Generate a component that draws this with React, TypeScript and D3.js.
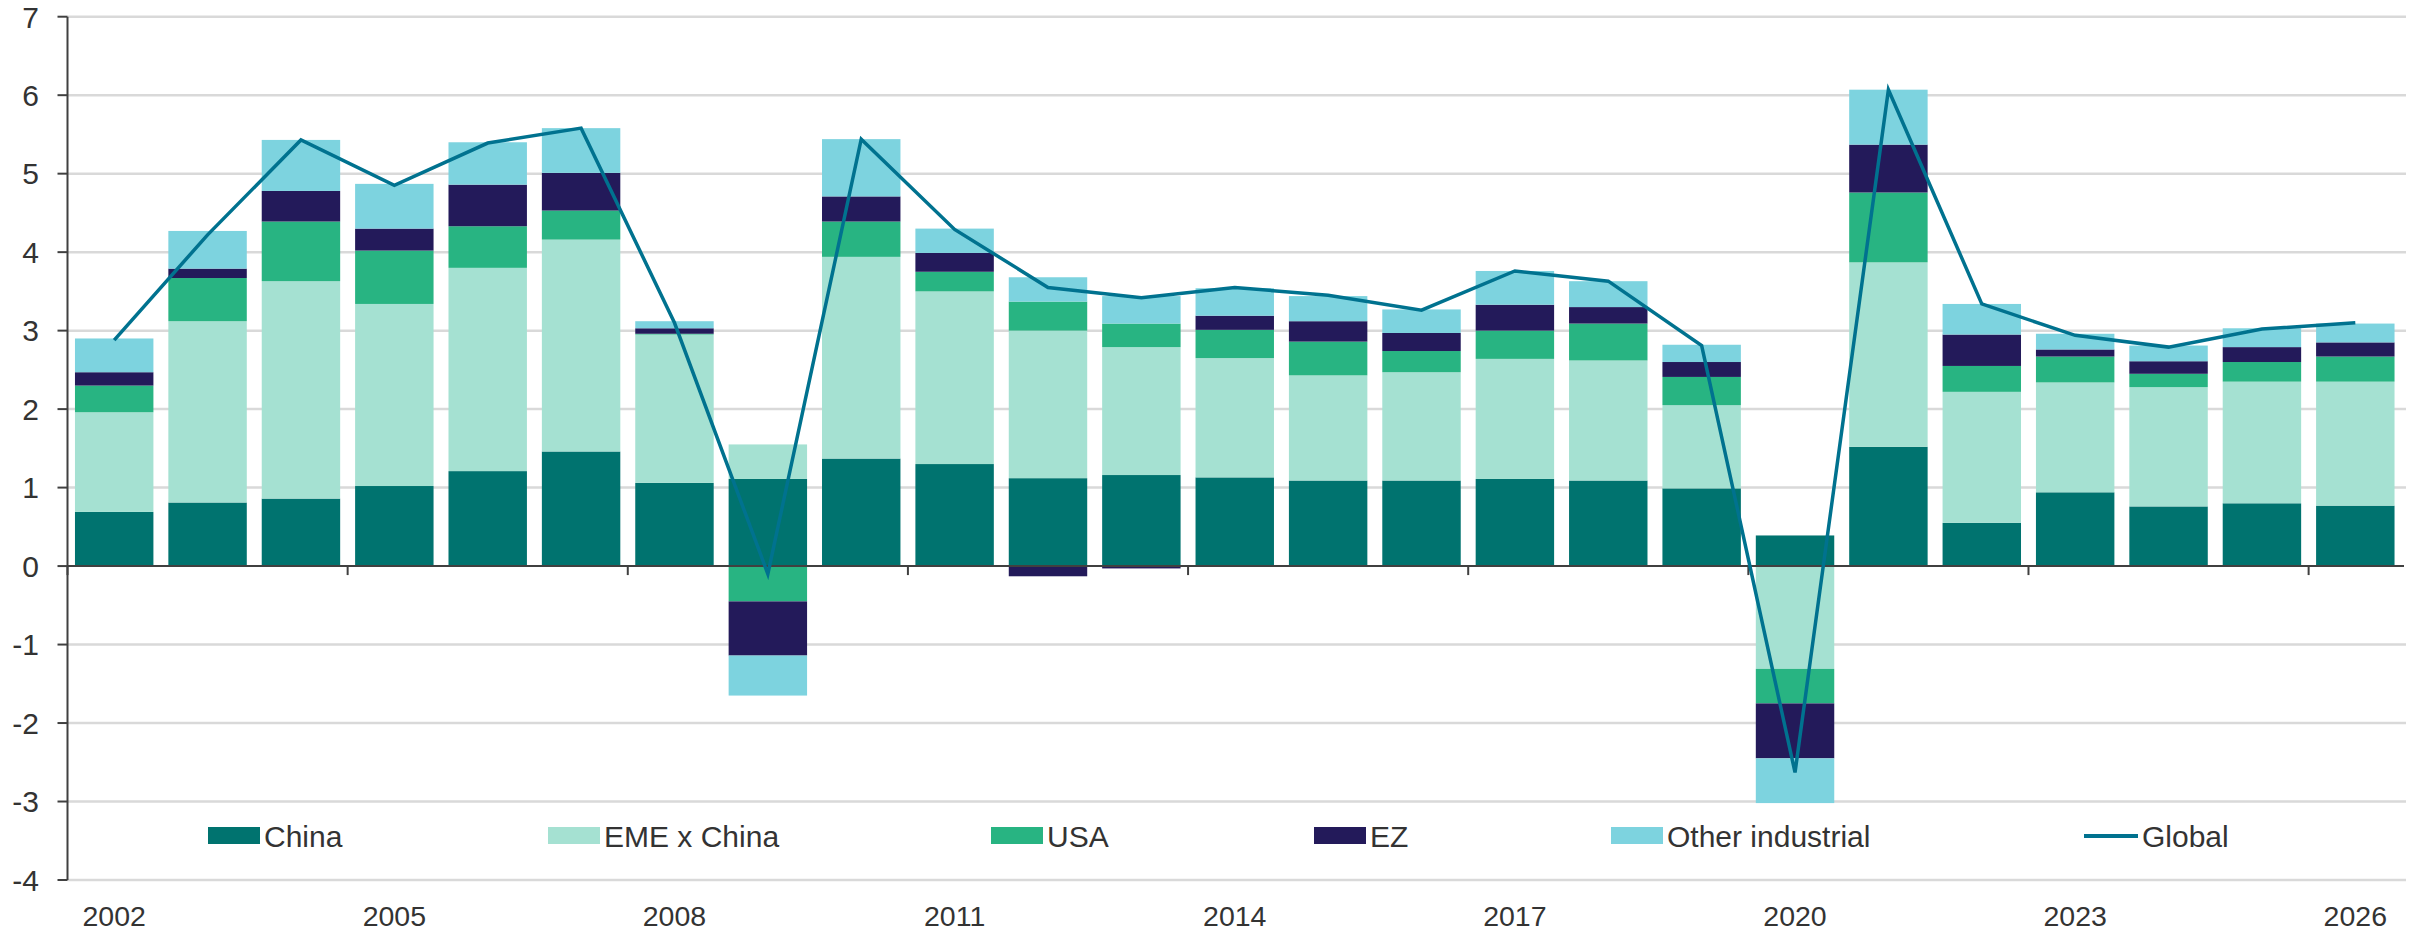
import React from "react";
import * as d3 from "d3";

const years = ["2002","2003","2004","2005","2006","2007","2008","2009","2010","2011","2012","2013","2014","2015","2016","2017","2018","2019","2020","2021","2022","2023","2024","2025","2026"];
const china = [0.69,0.81,0.86,1.02,1.21,1.46,1.06,1.11,1.37,1.30,1.12,1.16,1.13,1.09,1.09,1.11,1.09,0.99,0.39,1.52,0.55,0.94,0.76,0.80,0.77];
const emeXChina = [1.27,2.31,2.77,2.32,2.59,2.70,1.89,0.44,2.57,2.20,1.88,1.63,1.52,1.34,1.38,1.53,1.53,1.06,-1.31,2.35,1.67,1.40,1.52,1.55,1.58];
const usa = [0.34,0.55,0.76,0.68,0.53,0.37,0.01,-0.45,0.45,0.25,0.37,0.30,0.36,0.43,0.27,0.36,0.47,0.36,-0.44,0.89,0.33,0.33,0.17,0.25,0.32];
const ez = [0.17,0.12,0.39,0.28,0.53,0.48,0.07,-0.69,0.32,0.24,-0.13,-0.03,0.18,0.26,0.23,0.33,0.21,0.19,-0.70,0.61,0.40,0.09,0.16,0.19,0.18];
const otherIndustrial = [0.43,0.48,0.65,0.57,0.54,0.57,0.09,-0.51,0.73,0.31,0.31,0.35,0.35,0.32,0.30,0.43,0.33,0.22,-0.57,0.70,0.39,0.20,0.20,0.24,0.24];
const globalGrowth = [2.88,4.22,5.43,4.85,5.39,5.58,3.10,-0.10,5.44,4.29,3.55,3.42,3.55,3.45,3.26,3.76,3.63,2.81,-2.63,6.07,3.34,2.94,2.79,3.02,3.10];
const yTicks = [-4,-3,-2,-1,0,1,2,3,4,5,6,7];
const xLabelYears = ["2002","2005","2008","2011","2014","2017","2020","2023","2026"];

const seriesNames = ["China","EME x China","USA","EZ","Other industrial"];
const seriesValues = [china, emeXChina, usa, ez, otherIndustrial];
const seriesColors = ["#00736f","#a5e1d2","#28b482","#231a5a","#7dd3df"];
const lineColor = "#00728f";
const legendX = [208, 548, 991, 1314, 1611, 2084];

const W = 2420, H = 933;
const X0 = 67.5, X1 = 2402, Y_TOP = 16.7, Y_BOT = 880;
const FONT = "'Liberation Sans', Arial, sans-serif";
const FS = 30;

export default function App() {
  const x = d3.scaleBand<string>().domain(years).range([X0, X1]).paddingInner(0.16).paddingOuter(0.08);
  const y = d3.scaleLinear().domain([-4, 7]).range([Y_BOT, Y_TOP]);
  const step = x.step();
  const off = (step - x.bandwidth()) / 2;

  const table = years.map((yr, i) => {
    const row: any = { year: yr };
    seriesNames.forEach((n, k) => (row[n] = seriesValues[k][i]));
    return row;
  });
  const stacked = d3.stack<any>().keys(seriesNames).offset(d3.stackOffsetDiverging)(table);

  const line = d3.line<number>()
    .x((_, i) => (x(years[i]) as number) + x.bandwidth() / 2)
    .y((v) => y(v));

  return (
    <svg width={W} height={H} style={{ position: "absolute", left: 0, top: 0, background: "#fff" }} fontFamily={FONT}>
      {yTicks.filter(t => t !== 0).map(t => (
        <line key={"g" + t} x1={X0} x2={X1 + 4} y1={y(t)} y2={y(t)} stroke="#d9d9d9" strokeWidth={2.5} />
      ))}
      {stacked.map((s, k) => (
        <g key={s.key} fill={seriesColors[k]}>
          {s.map((d, i) => {
            const top = y(Math.max(d[0], d[1]));
            const bot = y(Math.min(d[0], d[1]));
            return <rect key={i} x={x(years[i])} y={top} width={x.bandwidth()} height={Math.max(0, bot - top)} />;
          })}
        </g>
      ))}
      <line x1={X0} x2={X0} y1={Y_TOP} y2={Y_BOT} stroke="#404040" strokeWidth={2} />
      {yTicks.map(t => (
        <g key={"yt" + t}>
          <line x1={X0 - 10} x2={X0} y1={y(t)} y2={y(t)} stroke="#404040" strokeWidth={2} />
          <text x={39} y={y(t)} dy="0.36em" textAnchor="end" fontSize={FS} fill="#333">{t}</text>
        </g>
      ))}
      <line x1={X0} x2={X1 + 2} y1={y(0)} y2={y(0)} stroke="#404040" strokeWidth={2} />
      {xLabelYears.map(yr => {
        const bx = (x(yr) as number) - off;
        return (
          <g key={"xt" + yr}>
            <line x1={bx} x2={bx} y1={y(0)} y2={y(0) + 9} stroke="#404040" strokeWidth={2} />
            <text x={(x(yr) as number) + x.bandwidth() / 2} y={916} dy="0.36em" textAnchor="middle" fontSize={28.5} fill="#333">{yr}</text>
          </g>
        );
      })}
      <path d={line(globalGrowth) || ""} fill="none" stroke={lineColor} strokeWidth={3.5} strokeLinejoin="miter" />
      {seriesNames.map((n, k) => (
        <g key={"lg" + n}>
          <rect x={legendX[k]} y={827} width={52} height={17} fill={seriesColors[k]} />
          <text x={legendX[k] + 56} y={836} dy="0.36em" fontSize={FS} fill="#333">{n}</text>
        </g>
      ))}
      <g>
        <line x1={legendX[5]} x2={legendX[5] + 54} y1={836} y2={836} stroke={lineColor} strokeWidth={4} />
        <text x={legendX[5] + 58} y={836} dy="0.36em" fontSize={FS} fill="#333">Global</text>
      </g>
    </svg>
  );
}
